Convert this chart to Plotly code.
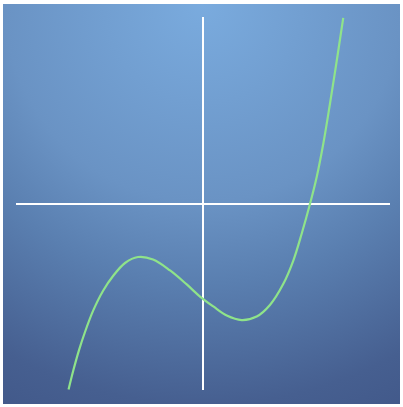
import base64
import plotly.graph_objects as go

# Curve points (axis units, both axes span -10..10)
curve_x = [-7.19, -6.93, -6.63, -6.31, -5.88, -5.35, -4.81, -4.17, -3.48, -2.67,
           -1.76, -0.87, -0.16, 0.55, 1.27, 2.07, 2.87, 3.58, 4.29, 4.83,
           5.28, 5.72, 6.08, 6.43, 6.79, 7.15, 7.50]
curve_y = [-9.97, -8.93, -7.86, -6.89, -5.76, -4.69, -3.89, -3.19, -2.87, -3.00,
           -3.59, -4.34, -4.99, -5.52, -6.01, -6.25, -6.06, -5.44, -4.32, -3.06,
           -1.61, -0.03, 1.42, 3.19, 5.35, 7.64, 9.95]
x_range = [-10, 10]
y_range = [-10, 10]

W, H = 403, 407

svg = f'''<svg xmlns="http://www.w3.org/2000/svg" width="397" height="400" viewBox="0 0 397 400" preserveAspectRatio="none">
<defs><radialGradient id="g" gradientUnits="userSpaceOnUse" cx="200" cy="0" r="450">
<stop offset="0" stop-color="#7aabde"/>
<stop offset="0.44" stop-color="#6a93c4"/>
<stop offset="0.62" stop-color="#5a7fb0"/>
<stop offset="0.89" stop-color="#465f90"/>
<stop offset="1" stop-color="#42598a"/>
</radialGradient></defs>
<rect x="0" y="0" width="397" height="400" fill="url(#g)"/>
</svg>'''
src = "data:image/svg+xml;base64," + base64.b64encode(svg.encode()).decode()

ml, mr, mt, mb = 16, 13, 17, 17
pw = W - ml - mr
ph = H - mt - mb

def px_to_paper_x(px):
    return (px - ml) / pw

def py_to_paper_y(py):
    return (H - mb - py) / ph

fig = go.Figure()
fig.add_trace(go.Scatter(x=curve_x, y=curve_y, mode="lines",
                         line=dict(color="#8fe38a", width=2.2, shape="spline", smoothing=1.0),
                         hoverinfo="skip", showlegend=False, cliponaxis=True))

fig.add_layout_image(dict(source=src, xref="paper", yref="paper",
                          x=px_to_paper_x(3), y=py_to_paper_y(4),
                          sizex=397 / pw, sizey=400 / ph,
                          xanchor="left", yanchor="top", sizing="stretch", layer="below"))

axis_common = dict(showgrid=False, showticklabels=False, ticks="", showline=False,
                   zeroline=True, zerolinecolor="white", zerolinewidth=2, fixedrange=True)
fig.update_layout(
    width=W, height=H,
    margin=dict(l=ml, r=mr, t=mt, b=mb, pad=0),
    paper_bgcolor="white", plot_bgcolor="rgba(0,0,0,0)",
    xaxis=dict(range=x_range, **axis_common),
    yaxis=dict(range=y_range, **axis_common),
    showlegend=False,
)

fig.write_html("out.html", config={"displayModeBar": False},
               post_script="document.body.style.margin='0px';")
